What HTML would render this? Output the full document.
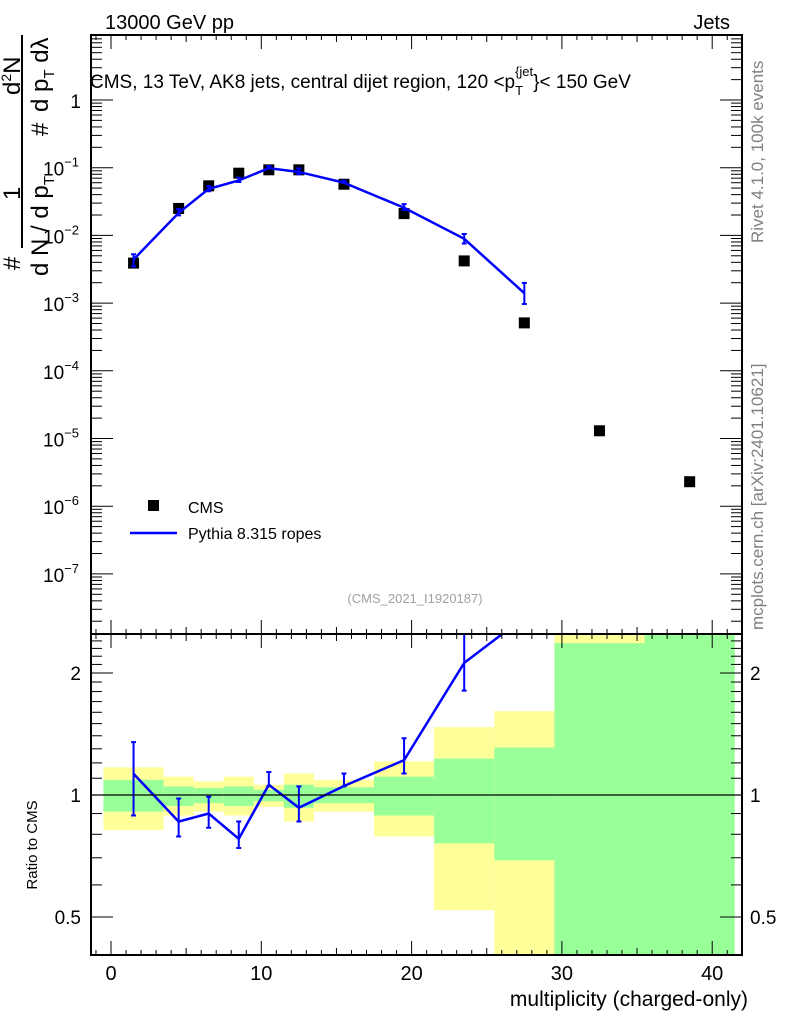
<!DOCTYPE html>
<html><head><meta charset="utf-8"><style>
body{margin:0;background:#fff;}
svg text{font-family:"Liberation Sans",sans-serif;}
</style></head><body>
<svg id="chart" width="786" height="1024" viewBox="0 0 786 1024" xmlns="http://www.w3.org/2000/svg">
<g id="bands"></g>
<g id="marks"></g>
<g id="axes"></g>
<text x="105" y="29" font-size="20">13000 GeV pp</text>
<text x="730" y="29" font-size="20" text-anchor="end">Jets</text>
<text x="90" y="88" font-size="19">CMS, 13 TeV, AK8 jets, central dijet region, 120 &lt;p<tspan font-size="13" dy="7">T</tspan><tspan font-size="13" dy="-19" dx="-8">{jet</tspan><tspan dy="12">}&lt; 150 GeV</tspan></text>
<text transform="translate(763,243) rotate(-90)" font-size="17" fill="#808080">Rivet 4.1.0,  100k events</text>
<text transform="translate(763,630) rotate(-90)" font-size="17" fill="#808080">mcplots.cern.ch [arXiv:2401.10621]</text>
<text x="415" y="603" font-size="13" fill="#a0a0a0" text-anchor="middle">(CMS_2021_I1920187)</text>
<g font-size="24">
<text transform="translate(20,270) rotate(-90)">#</text>
<text transform="translate(20,200) rotate(-90)">1</text>
<line x1="22" y1="35" x2="22" y2="248" stroke="#000" stroke-width="2"/>
<text transform="translate(48,276) rotate(-90)">d N / d p<tspan font-size="15" dy="6">T</tspan></text>
<text transform="translate(48,136) rotate(-90)">#</text>
<text transform="translate(20,95) rotate(-90)">d<tspan font-size="14" dy="-9">2</tspan><tspan dy="9">N</tspan></text>
<text transform="translate(48,112) rotate(-90)">d p<tspan font-size="15" dy="6">T</tspan><tspan dy="-6"> dλ</tspan></text>
</g>
<text transform="translate(37,845) rotate(-90)" font-size="15" text-anchor="middle">Ratio to CMS</text>
<text x="748" y="1006" font-size="21" text-anchor="end">multiplicity (charged-only)</text>
<g>
<rect x="148" y="500" width="11" height="11" fill="#000"/>
<text x="188" y="513" font-size="16">CMS</text>
<line x1="130" y1="533" x2="177" y2="533" stroke="#00f" stroke-width="2.5"/>
<text x="188" y="539" font-size="16">Pythia 8.315 ropes</text>
</g>
</svg>
<script>
const binEdges=[-0.5,3.5,5.5,7.5,9.5,11.5,13.5,17.5,21.5,25.5,29.5,35.5,41.5];
const centers=[1.5,4.5,6.5,8.5,10.5,12.5,15.5,19.5,23.5,27.5,32.5,38.5];
const cmsVals=[0.0039,0.025,0.054,0.083,0.093,0.093,0.057,0.021,0.0042,0.00051,1.3e-5,2.3e-6];
const mcCenters=[1.5,4.5,6.5,8.5,10.5,12.5,15.5,19.5,23.5,27.5];
const mcVals=[0.0044,0.0215,0.0486,0.0647,0.0986,0.0865,0.060,0.0256,0.0089,0.0014];
const mcErrUp=[1.35,0.98,0.99,0.86,1.14,1.05,1.13,1.38,2.5,3.9];
const mcErrDn=[0.89,0.79,0.83,0.74,1.05,0.86,1.05,1.13,1.81,1.9];
const yellowHi=[1.17,1.11,1.08,1.11,1.06,1.13,1.09,1.21,1.47,1.61,3,3];
const yellowLo=[0.82,0.89,0.91,0.89,0.935,0.86,0.91,0.79,0.52,0.3,0.3,0.3];
const greenHi=[1.09,1.05,1.04,1.05,1.03,1.06,1.045,1.11,1.23,1.31,2.37,3];
const greenLo=[0.91,0.94,0.955,0.94,0.965,0.93,0.955,0.89,0.76,0.69,0.3,0.3];
const mainTicks=["1","10","10","10","10","10","10","10"];
const mainExp=["","−1","−2","−3","−4","−5","−6","−7"];
const xTicks=[0,10,20,30,40];
const ratioTicks=[0.5,1,2];

const L=91,R=742,T=35,MB=634,RB=955;
const X=v=>111+v*15.03;
const Y=v=>100-Math.log10(v)*67.7;
const YR=v=>795-Math.log2(v)*122;
const NS="http://www.w3.org/2000/svg";
function mk(p,tag,a){const e=document.createElementNS(NS,tag);for(const k in a)e.setAttribute(k,a[k]);p.appendChild(e);return e;}
const bands=document.getElementById('bands'),marks=document.getElementById('marks'),axes=document.getElementById('axes');
const clip=mk(document.getElementById('chart'),'clipPath',{id:'rc'});mk(clip,'rect',{x:L,y:MB,width:R-L,height:RB-MB});
const clipM=mk(document.getElementById('chart'),'clipPath',{id:'mc'});mk(clipM,'rect',{x:L,y:T,width:R-L,height:MB-T});
bands.setAttribute('clip-path','url(#rc)');
for(let i=0;i<yellowHi.length;i++){
 const x1=X(binEdges[i]),x2=X(binEdges[i+1]);
 const y=mk(bands,'rect',{x:x1,y:YR(yellowHi[i]),width:x2-x1,height:YR(yellowLo[i])-YR(yellowHi[i]),fill:'#ffff99'});
 
 
 const g=mk(bands,'rect',{x:x1,y:YR(greenHi[i]),width:x2-x1,height:YR(greenLo[i])-YR(greenHi[i]),fill:'#99ff99'});
 
 
}
const one=mk(axes,'line',{x1:L,x2:R,y1:YR(1),y2:YR(1),stroke:'#000','stroke-width':1.2});


for(let i=0;i<cmsVals.length;i++){
 const r=mk(marks,'rect',{x:X(centers[i])-5.5,y:Y(cmsVals[i])-5.5,width:11,height:11,fill:'#000'});
 
 
}
const gm=mk(marks,'g',{'clip-path':'url(#mc)'});
const pm=mk(gm,'polyline',{points:mcCenters.map((c,i)=>X(c)+','+Y(mcVals[i])).join(' '),fill:'none',stroke:'#00f','stroke-width':2.5});


const gr=mk(marks,'g',{'clip-path':'url(#rc)'});
const ratio=mcCenters.map((c,i)=>mcVals[i]/cmsVals[i]);
const pr=mk(gr,'polyline',{points:mcCenters.map((c,i)=>X(c)+','+YR(ratio[i])).join(' '),fill:'none',stroke:'#00f','stroke-width':2.5});


for(let i=0;i<mcCenters.length;i++){
 const x=X(mcCenters[i]);
 const eu=mcErrUp[i]/ratio[i], ed=mcErrDn[i]/ratio[i];
 const list=[[gm,Y(mcVals[i]*eu),Y(mcVals[i]*ed)]];
 if(YR(ratio[i])>MB) list.push([gr,YR(mcErrUp[i]),YR(mcErrDn[i])]);
 list.forEach(([g,a,b])=>{
  const e=mk(g,'path',{d:`M${x},${a}V${b}M${x-2.5},${a}H${x+2.5}M${x-2.5},${b}H${x+2.5}`,stroke:'#00f','stroke-width':2,fill:'none'});
  
  
 });
}
[[T,MB],[MB,RB]].forEach(([a,b])=>mk(axes,'rect',{x:L,y:a,width:R-L,height:b-a,fill:'none',stroke:'#000','stroke-width':2}));
for(let v=-1;v<=42;v++){
 const x=X(v),big=v%10==0,med=v%5==0;const len=big?14:(med?7:5);
 if(x<L||x>R)continue;
 [T,MB].forEach(y0=>mk(axes,'line',{x1:x,x2:x,y1:y0,y2:y0+len,stroke:'#000'}));
 [MB,RB].forEach(y0=>mk(axes,'line',{x1:x,x2:x,y1:y0,y2:y0-len,stroke:'#000'}));
}
xTicks.forEach(v=>{const t=mk(axes,'text',{x:X(v),y:980,'font-size':20,'text-anchor':'middle'});t.textContent=v;
 
 });
for(let d=-8;d<=1;d++){for(let m=1;m<10;m++){const v=m*Math.pow(10,d),y=Y(v);if(y<T||y>MB)continue;
 const len=m==1?22:11;mk(axes,'line',{x1:L,x2:L+len,y1:y,y2:y,stroke:'#000'});mk(axes,'line',{x1:R,x2:R-len,y1:y,y2:y,stroke:'#000'});}}
mainTicks.forEach((s,i)=>{const t=mk(axes,'text',{x:i==0?81:43,y:Y(Math.pow(10,-i))+8,'font-size':19,'text-anchor':i==0?'end':'start'});
 t.textContent=s;if(mainExp[i]){const ts=mk(t,'tspan',{dy:-9,'font-size':13});ts.textContent=mainExp[i];}
 
 });
for(let v=0.3;v<=2.6;v+=0.1){const y=YR(v);if(y<MB||y>RB)continue;const big=Math.abs(v-0.5)<0.01||Math.abs(v-1)<0.01||Math.abs(v-2)<0.01;
 const len=big?22:11;mk(axes,'line',{x1:L,x2:L+len,y1:y,y2:y,stroke:'#000'});mk(axes,'line',{x1:R,x2:R-len,y1:y,y2:y,stroke:'#000'});}
ratioTicks.forEach(v=>{[[81,'end'],[750,'start']].forEach(([x,a])=>{const t=mk(axes,'text',{x:x,y:YR(v)+7,'font-size':19,'text-anchor':a});t.textContent=v;
 
 });});
</script>
</body></html>
